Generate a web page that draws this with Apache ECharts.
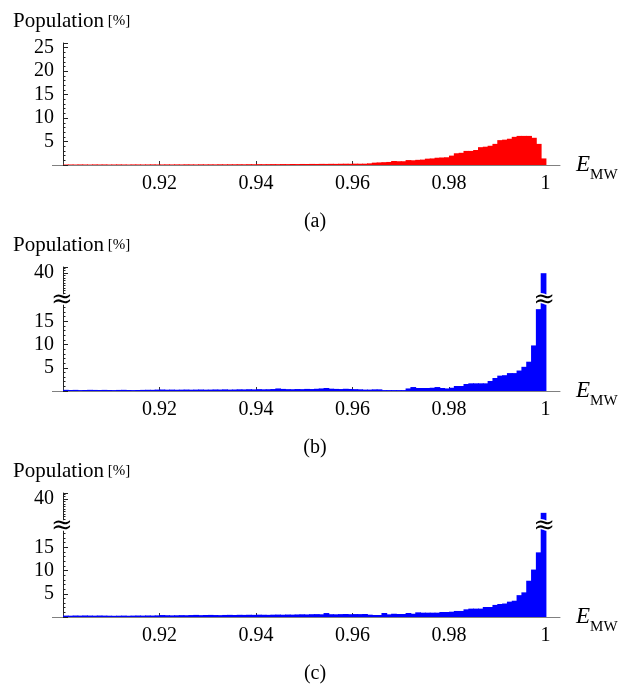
<!DOCTYPE html>
<html><head><meta charset="utf-8">
<script src="https://cdn.jsdelivr.net/npm/echarts@6/dist/echarts.min.js"></script>
<style>html,body{margin:0;padding:0;background:#fff}#c{width:629px;height:685px}</style>
</head><body><div id="c"></div>
<script>
// ---- data ----
const BIN_START = 0.9;      // first bin left edge
const BIN_WIDTH = 0.001;    // histogram bin width
const X_MIN = 0.9, X_MAX = 1.003;
const xTicks = ['0.92', '0.94', '0.96', '0.98', '1'];
const yTicksA = [5, 10, 15, 20, 25];
const yTicksLow = [5, 10, 15];
const yTicksHigh = [40];
const BREAK_AT = 20;

// panel (a) population [%] per bin, 0.900 ... 0.999
const popA = [
 0.10,0.11,0.10,0.12,0.11,0.10,0.12,0.11,0.12,0.10,
 0.11,0.12,0.11,0.10,0.12,0.12,0.11,0.12,0.13,0.12,
 0.12,0.13,0.12,0.13,0.12,0.14,0.13,0.12,0.14,0.13,
 0.14,0.13,0.15,0.14,0.15,0.15,0.16,0.15,0.17,0.16,
 0.18,0.17,0.18,0.19,0.18,0.20,0.19,0.21,0.20,0.22,
 0.21,0.23,0.22,0.24,0.23,0.25,0.24,0.26,0.27,0.26,
 0.28,0.27,0.28,0.35,0.50,0.55,0.60,0.65,0.85,0.80,
 0.80,1.05,1.00,1.10,1.15,1.35,1.40,1.55,1.60,1.65,
 2.00,2.50,2.60,3.00,3.00,3.20,3.80,3.90,4.10,4.50,
 5.30,5.40,5.60,6.00,6.20,6.20,6.20,5.80,4.50,1.40
];
// panel (b)
const popB = [
 0.25,0.22,0.24,0.20,0.22,0.25,0.23,0.21,0.24,0.22,
 0.20,0.23,0.25,0.22,0.20,0.22,0.24,0.26,0.25,0.30,
 0.32,0.28,0.30,0.27,0.29,0.31,0.28,0.30,0.32,0.29,
 0.30,0.33,0.31,0.35,0.30,0.32,0.36,0.34,0.38,0.35,
 0.40,0.36,0.38,0.42,0.55,0.45,0.40,0.38,0.42,0.40,
 0.45,0.42,0.48,0.55,0.65,0.50,0.45,0.42,0.48,0.44,
 0.40,0.36,0.30,0.30,0.35,0.35,0.20,0.20,0.20,0.20,
 0.20,0.55,0.85,0.65,0.65,0.65,0.70,0.85,0.65,0.55,
 0.70,1.07,1.07,1.50,1.65,1.65,1.65,1.65,2.15,2.80,
 3.30,3.40,3.85,3.85,4.40,5.20,6.30,9.80,17.6,40.0
];
// panel (c)
const popC = [
 0.30,0.28,0.32,0.30,0.33,0.31,0.29,0.32,0.30,0.28,
 0.26,0.28,0.30,0.27,0.30,0.32,0.30,0.33,0.31,0.35,
 0.42,0.38,0.35,0.37,0.40,0.38,0.42,0.45,0.40,0.43,
 0.45,0.42,0.40,0.44,0.46,0.43,0.47,0.45,0.48,0.46,
 0.50,0.48,0.46,0.50,0.52,0.49,0.53,0.51,0.55,0.58,
 0.55,0.60,0.62,0.58,0.85,0.60,0.58,0.62,0.65,0.60,
 0.63,0.62,0.65,0.50,0.43,0.43,0.86,0.57,0.70,0.65,
 0.65,0.86,0.70,1.00,0.93,0.93,0.93,0.93,1.07,1.07,
 1.14,1.30,1.30,1.65,1.80,1.80,1.80,2.15,2.15,2.60,
 2.80,2.90,3.30,3.50,4.70,5.30,7.80,10.2,13.9,29.0
];
const panelLabels = ['(a)', '(b)', '(c)'];

// ---- chart ----
const FONT = '"Liberation Serif", "Times New Roman", serif';
const toPairs = arr => arr.map((v, k) => [+(BIN_START + k * BIN_WIDTH).toFixed(3), v]);

function renderBins(color) {
  return function (params, api) {
    const x0 = api.value(0), v = api.value(1);
    const a = api.coord([x0, v]);
    const b = api.coord([x0 + BIN_WIDTH, 0]);
    const cs = params.coordSys;
    const shape = echarts.graphic.clipRectByRect(
      {x: a[0], y: a[1], width: b[0] - a[0] + 0.9, height: b[1] - a[1]},
      {x: cs.x, y: cs.y, width: cs.width, height: cs.height});
    if (!shape) return null;
    return {type: 'rect', shape: shape, style: {fill: color}};
  };
}

const L = 63, W = 497;
const grids = [
  {left: L, top: 43, width: W, height: 122},   // a
  {left: L, top: 298, width: W, height: 93},   // b low
  {left: L, top: 267, width: W, height: 31},   // b high
  {left: L, top: 524, width: W, height: 93},   // c low
  {left: L, top: 493, width: W, height: 31}    // c high
];

function xLabel(v) {
  for (const s of xTicks) { if (Math.abs(parseFloat(s) - v) < 1e-6) return s; }
  return '';
}

function xAxis(gi, visible) {
  return {
    type: 'value', gridIndex: gi, min: X_MIN, max: X_MAX, interval: 0.02,
    show: visible,
    name: visible ? '{e|E}{s|MW}' : '',
    nameLocation: 'end', nameGap: 16,
    nameTextStyle: {
      rich: {
        e: {fontFamily: FONT, fontStyle: 'italic', fontSize: 23, color: '#000', lineHeight: 26},
        s: {fontFamily: FONT, fontSize: 15, color: '#000', verticalAlign: 'bottom', lineHeight: 26, padding: [0, 0, -5, 0]}
      }
    },
    axisLine: {show: true, lineStyle: {color: '#808080', width: 1}},
    axisTick: {show: true, inside: true, length: 4, lineStyle: {color: '#333'}},
    minorTick: {show: false},
    splitLine: {show: false},
    axisLabel: {
      show: visible, margin: 9, color: '#000', fontFamily: FONT, fontSize: 20,
      showMaxLabel: false, formatter: xLabel
    }
  };
}

function yAxis(gi, min, max, interval, shown, minorSplit) {
  return {
    type: 'value', gridIndex: gi, min: min, max: max, interval: interval,
    axisLine: {show: true, onZero: false, lineStyle: {color: '#222', width: 1}},
    axisTick: {show: true, inside: true, length: 5, lineStyle: {color: '#222'}},
    minorTick: {show: true, splitNumber: minorSplit, length: 2.5, lineStyle: {color: '#222'}},
    splitLine: {show: false}, minorSplitLine: {show: false},
    axisLabel: {
      margin: 9, color: '#000', fontFamily: FONT, fontSize: 20,
      formatter: v => shown.indexOf(Math.round(v)) >= 0 ? String(Math.round(v)) : ''
    }
  };
}

const option = {
  animation: false,
  backgroundColor: '#fff',
  grid: grids,
  xAxis: [xAxis(0, true), xAxis(1, true), xAxis(2, false), xAxis(3, true), xAxis(4, false)],
  yAxis: [
    yAxis(0, 0, 26, 5, yTicksA, 5),
    yAxis(1, 0, BREAK_AT, 5, yTicksLow, 5),
    yAxis(2, BREAK_AT, 45, 20, yTicksHigh, 10),
    yAxis(3, 0, BREAK_AT, 5, yTicksLow, 5),
    yAxis(4, BREAK_AT, 45, 20, yTicksHigh, 10)
  ],
  series: [
    {type: 'custom', xAxisIndex: 0, yAxisIndex: 0, data: toPairs(popA), renderItem: renderBins('#ff0000')},
    {type: 'custom', xAxisIndex: 1, yAxisIndex: 1, data: toPairs(popB), renderItem: renderBins('#0000ff')},
    {type: 'custom', xAxisIndex: 2, yAxisIndex: 2, data: toPairs(popB), renderItem: renderBins('#0000ff')},
    {type: 'custom', xAxisIndex: 3, yAxisIndex: 3, data: toPairs(popC), renderItem: renderBins('#0000ff')},
    {type: 'custom', xAxisIndex: 4, yAxisIndex: 4, data: toPairs(popC), renderItem: renderBins('#0000ff')}
  ]
};

const chart = echarts.init(document.getElementById('c'), null, {renderer: 'canvas'});
chart.setOption(option);

const g = [];
// y titles and panel labels
[0, 1, 3].forEach((gi, i) => {
  const top = chart.convertToPixel({gridIndex: gi === 0 ? 0 : gi + 1}, [X_MIN, gi === 0 ? 26 : 45]);
  const base = chart.convertToPixel({gridIndex: gi}, [X_MIN, 0]);
  g.push({
    type: 'text', x: 13, y: top[1] - 22,
    style: {
      text: '{p|Population}{q| [%]}', verticalAlign: 'middle', align: 'left',
      rich: {p: {fontFamily: FONT, fontSize: 21, fill: '#000'}, q: {fontFamily: FONT, fontSize: 15, fill: '#000'}}
    }
  });
  g.push({
    type: 'text', x: 315, y: base[1] + 57,
    style: {text: panelLabels[i], fontFamily: FONT, fontSize: 20, fill: '#000', align: 'center', verticalAlign: 'middle'}
  });
  // x axis extends left of the origin
  const yy = Math.round(base[1]) + 0.5;
  g.push({type: 'line', shape: {x1: base[0] - 11, y1: yy, x2: base[0], y2: yy}, style: {stroke: '#808080', lineWidth: 1}});
});
// break marks
[1, 3].forEach(gi => {
  [X_MIN, 1 - BIN_WIDTH / 2].forEach(x => {
    const p = chart.convertToPixel({gridIndex: gi}, [x, BREAK_AT]);
    g.push({
      type: 'text', x: p[0] + (x === X_MIN ? -1 : 1), y: p[1] + 2, z: 100,
      style: {text: '≈', fontFamily: '"DejaVu Serif", serif', fontSize: 26, fill: '#000',
              stroke: '#fff', lineWidth: 3, strokeFirst: true, align: 'center', verticalAlign: 'middle'}
    });
  });
});
chart.setOption({graphic: g});
</script></body></html>
